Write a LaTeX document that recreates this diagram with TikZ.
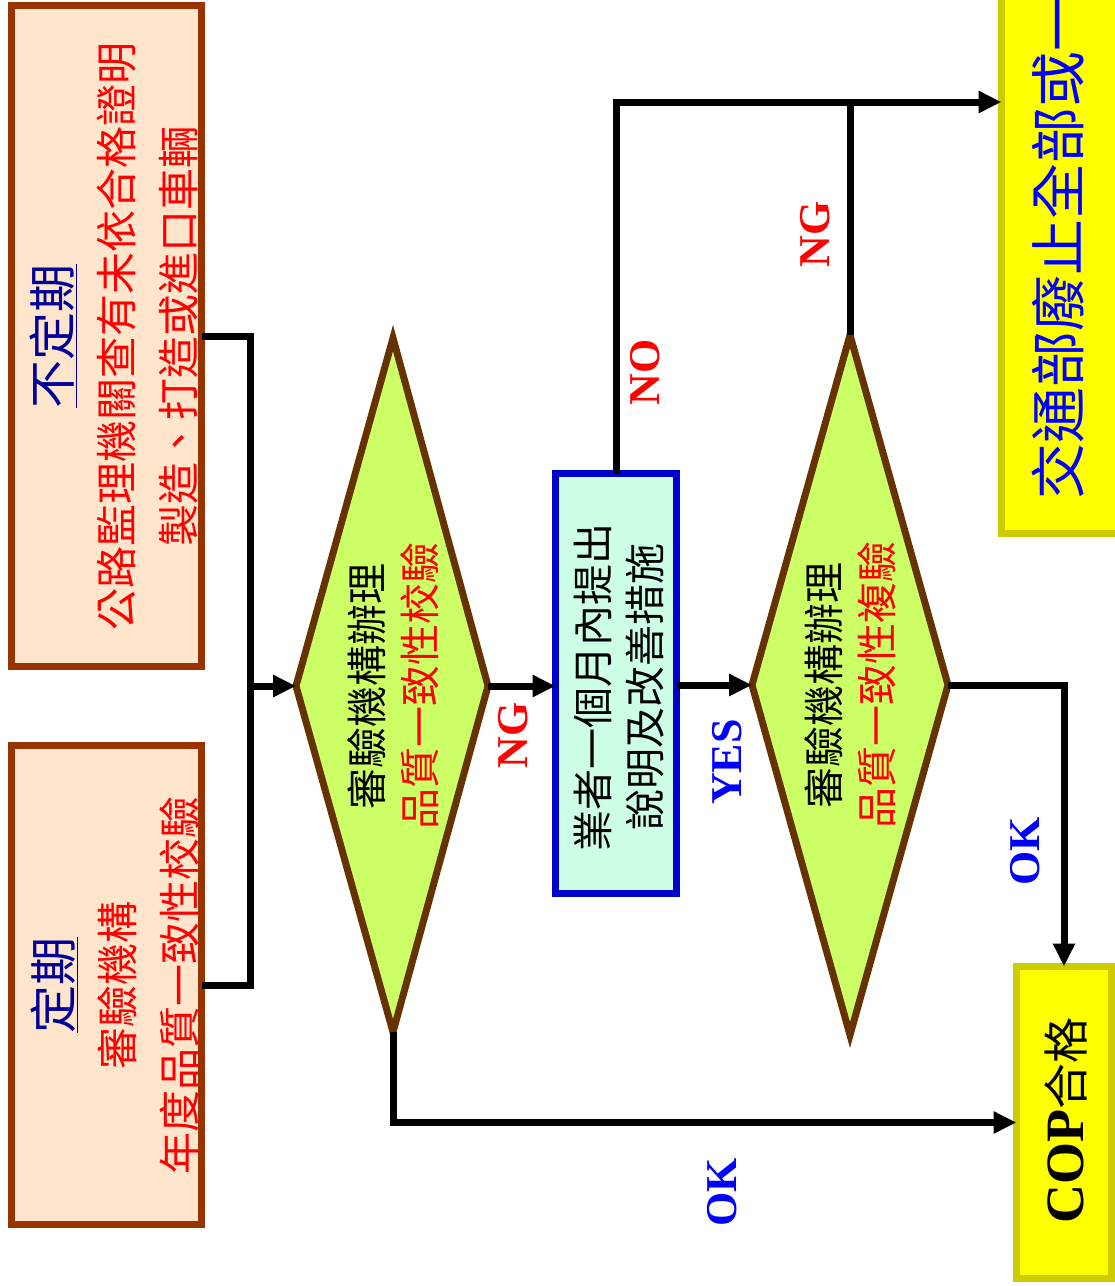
\documentclass[tikz,border=0pt]{standalone}
\usepackage{fontspec}
\setmainfont{Liberation Serif}
\newfontfamily\cjk{Noto Sans CJK TC}
\usetikzlibrary{arrows.meta}
\definecolor{peach}{HTML}{FFE5CC}
\definecolor{peachborder}{HTML}{993300}
\definecolor{dfill}{HTML}{CCFF66}
\definecolor{dborder}{HTML}{663300}
\definecolor{mint}{HTML}{CCFFE6}
\definecolor{boxblue}{HTML}{0000CC}
\definecolor{yel}{HTML}{FFFF00}
\definecolor{yelborder}{HTML}{CCCC00}
\definecolor{navy}{HTML}{000099}
\definecolor{lblue}{HTML}{0000FF}
\definecolor{lred}{HTML}{FF0000}
\tikzset{
  peachbox/.style={draw=peachborder, fill=peach, line width=7pt, inner sep=0pt, outer sep=0pt},
  mintbox/.style={draw=boxblue, fill=mint, line width=7pt, inner sep=0pt, outer sep=0pt},
  yelbox/.style={draw=yelborder, fill=yel, line width=7pt, inner sep=0pt, outer sep=0pt},
  dshape/.style={draw=dborder, fill=dfill, line width=7pt, line join=miter},
  vtext/.style={rotate=90, align=center, inner sep=0pt},
  conn/.style={line width=7pt, black},
  arr/.style={conn, -{Triangle[length=23pt,width=21pt]}},
  lbl/.style={rotate=90, inner sep=0pt, font=\bfseries\fontsize{44}{48}\selectfont}
}
\begin{document}
\begin{tikzpicture}[x=1pt,y=1pt]
\useasboundingbox (0,0) rectangle (1115,-1286);
\clip (0,0) rectangle (1115,-1286);

% boxes
\node[peachbox, minimum width=190pt, minimum height=661pt] (b1) at (106.5,-336) {};
\node[peachbox, minimum width=190pt, minimum height=479pt] (b2) at (106.5,-985) {};
\node[mintbox, minimum width=121pt, minimum height=420pt] (ys) at (616,-683.5) {};
\node[yelbox, minimum width=138.5pt, minimum height=553.5pt] (yb) at (1070.75,-256.75) {};
\node[yelbox, minimum width=95pt, minimum height=312pt] (cop) at (1064,-1122.5) {};

% diamonds
\coordinate (d1l) at (296,-686);
\coordinate (d1t) at (393,-338);
\coordinate (d1r) at (488,-686);
\coordinate (d1b) at (393,-1032);
\coordinate (d2l) at (752,-685);
\coordinate (d2t) at (850,-335);
\coordinate (d2r) at (948,-685);
\coordinate (d2b) at (850,-1035);
\draw[dshape] (d1l) -- (d1t) -- (d1r) -- (d1b) -- cycle;
\draw[dshape] (d2l) -- (d2t) -- (d2r) -- (d2b) -- cycle;

% texts
\node[vtext, font=\cjk\fontsize{42}{62}\selectfont] (t1) at (114,-336)
  {{\fontsize{48}{62}\selectfont\color{navy}\underline{不定期}}\\
   {\color{lred}公路監理機關查有未依合格證明}\\
   {\color{lred}製造、打造或進口車輛}};
\node[vtext, font=\cjk\fontsize{42}{62}\selectfont] (t2) at (115,-985)
  {{\fontsize{48}{62}\selectfont\color{navy}\underline{定期}}\\
   {\color{lred}審驗機構}\\
   {\color{lred}年度品質一致性校驗}};
\node[vtext, font=\cjk\fontsize{41}{53}\selectfont] (t3) at (393,-686)
  {審驗機構辦理\\ {\color{lred}品質一致性校驗}};
\node[vtext, font=\cjk\fontsize{41}{53}\selectfont] (t4) at (850,-685)
  {審驗機構辦理\\ {\color{lred}品質一致性複驗}};
\node[vtext, font=\cjk\fontsize{41}{52}\selectfont] (t5) at (619,-687)
  {業者一個月內提出\\ 說明及改善措施};
\node[vtext, anchor=west, font=\cjk\fontsize{56}{60}\selectfont, text=lblue] (t6) at (1058,-500)
  {交通部廢止全部或一};
\node[vtext] (t7) at (1066,-1120)
  {{\bfseries\fontsize{54}{60}\selectfont COP}{\cjk\fontsize{46}{60}\selectfont 合格}};

% connectors
\coordinate (jn) at (250,-686);
\coordinate (nrow) at (0,-102);
\draw[conn] (b1.east) -| (jn);
\draw[conn] (b2.east) -| (jn);
\draw[arr] (jn) -- (d1l);
\draw[arr] (d1b) |- (cop.west);
\draw[arr] (d1r) -- (d1r -| ys.west);
\draw[arr] (ys.north) |- (nrow -| yb.west);
\draw[conn] (d2t) -- (d2t |- nrow);
\draw[arr] (d2l -| ys.east) -- (d2l);
\draw[arr] (d2r) -| (cop.north);

% labels
\node[lbl, text=lred] (l1) at (513,-735) {NG};
\node[lbl, text=lblue] (l2) at (722,-1192) {OK};
\node[lbl, text=lred] (l3) at (645,-372) {NO};
\node[lbl, text=lblue] (l4) at (727,-762) {YES};
\node[lbl, text=lred] (l5) at (815,-234) {NG};
\node[lbl, text=lblue] (l6) at (1025,-851) {OK};
\end{tikzpicture}
\end{document}
